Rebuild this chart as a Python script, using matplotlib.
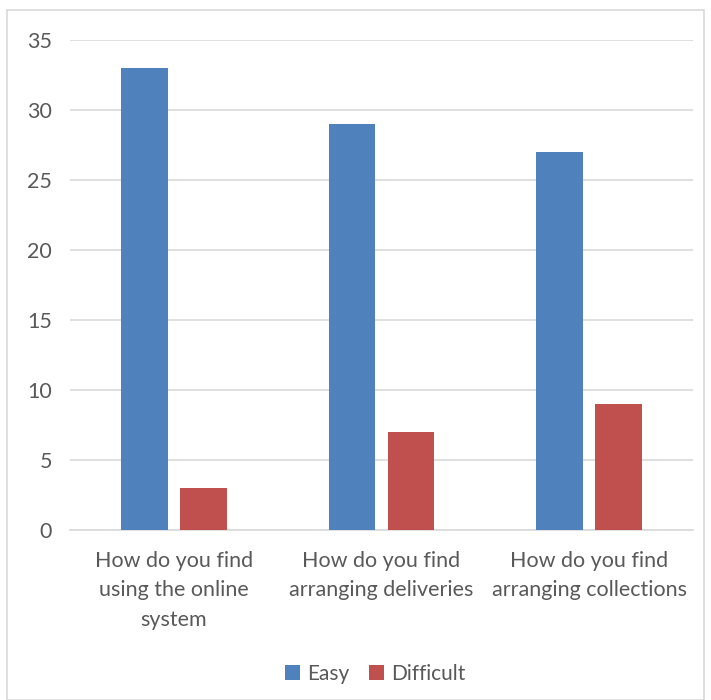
import numpy as np
import matplotlib.pyplot as plt
from matplotlib.patches import Rectangle

categories = ['How do you find\nusing the online\nsystem',
              'How do you find\narranging deliveries',
              'How do you find\narranging collections']
easy = [33, 29, 27]
difficult = [3, 7, 9]

plt.rcParams['font.family'] = ['Lato', 'DejaVu Sans']

fig = plt.figure(figsize=(7.11, 7.0), dpi=100)
fig.patches.append(Rectangle((7 / 711, 0), 697 / 711, 690 / 700, transform=fig.transFigure,
                             fill=False, edgecolor='#d9d9d9', linewidth=1.2))

ax = fig.add_axes([70 / 711, 170 / 700, 623 / 711, 490 / 700])
x = np.arange(len(categories))
w = 0.226
off = 0.142
ax.bar(x - off, easy, w, color='#4f81bd', label='Easy', zorder=3)
ax.bar(x + off, difficult, w, color='#c0504d', label='Difficult', zorder=3)

ax.set_xlim(-0.5, 2.5)
ax.set_ylim(0, 35)
ax.set_yticks(range(0, 36, 5))
ax.yaxis.grid(True, color='#d9d9d9', linewidth=1.2, zorder=0)
for s in ['top', 'right', 'left']:
    ax.spines[s].set_visible(False)
ax.spines['bottom'].set_color('#d9d9d9')
ax.spines['bottom'].set_linewidth(1.2)
ax.tick_params(length=0, colors='#595959', labelsize=15.5)
ax.tick_params(axis='y', pad=13)
ax.tick_params(axis='x', pad=15)
ax.set_xticks(x)
ax.set_xticklabels(categories, linespacing=1.6)

ax.legend(loc='center', bbox_to_anchor=(0.49, -0.293), ncol=2, frameon=False,
          fontsize=15, labelcolor='#595959', handlelength=0.75, handleheight=0.75,
          handletextpad=0.35, columnspacing=0.9)

plt.savefig('out.png', dpi=100)
